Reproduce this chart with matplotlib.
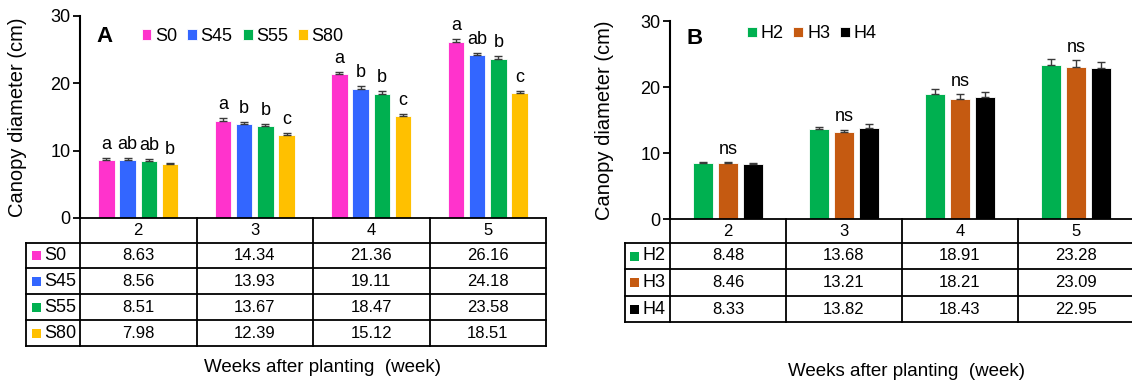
import numpy as np
import matplotlib
matplotlib.use('Agg')
import matplotlib.pyplot as plt
from matplotlib import transforms
from matplotlib.patches import Rectangle
from matplotlib.lines import Line2D

plt.rcParams['font.family'] = ['Liberation Sans', 'DejaVu Sans']

# ---------------- data ----------------
weeks = ['2', '3', '4', '5']

a_names = ['S0', 'S45', 'S55', 'S80']
a_colors = ['#FF33CC', '#3366FF', '#00B050', '#FFC000']
s0 = [8.63, 14.34, 21.36, 26.16]
s45 = [8.56, 13.93, 19.11, 24.18]
s55 = [8.51, 13.67, 18.47, 23.58]
s80 = [7.98, 12.39, 15.12, 18.51]
s0_err = [0.35, 0.50, 0.35, 0.35]
s45_err = [0.30, 0.35, 0.45, 0.30]
s55_err = [0.20, 0.35, 0.45, 0.45]
s80_err = [0.15, 0.30, 0.30, 0.40]
s0_let = ['a', 'a', 'a', 'a']
s45_let = ['ab', 'b', 'b', 'ab']
s55_let = ['ab', 'b', 'b', 'b']
s80_let = ['b', 'c', 'c', 'c']

b_names = ['H2', 'H3', 'H4']
b_colors = ['#00B050', '#C55A11', '#000000']
h2 = [8.48, 13.68, 18.91, 23.28]
h3 = [8.46, 13.21, 18.21, 23.09]
h4 = [8.33, 13.82, 18.43, 22.95]
h2_err = [0.15, 0.30, 0.80, 0.90]
h3_err = [0.15, 0.35, 0.75, 1.00]
h4_err = [0.15, 0.50, 0.85, 0.85]
b_sig = ['ns', 'ns', 'ns', 'ns']

# ---------------- figure ----------------
W, H = 1132, 380
fig = plt.figure(figsize=(W / 100, H / 100), dpi=100)
pix = transforms.Affine2D().scale(1, -1).translate(0, H)  # top-left pixel coords


def add_ax(l, t, r, b):
    return fig.add_axes([l / W, 1 - b / H, (r - l) / W, (b - t) / H])


FS = 12


def panel(ax, names, colors, vals, errs, width, step, letters_per_series,
          top_labels, row_bounds, table_left_px, sq_x, txt_x, legend_anchor,
          panel_letter, letter_xy):
    n = len(names)
    base = np.arange(len(weeks)) + 0.5
    handles = []
    xs_all = []
    for i in range(n):
        xs = base + (i - (n - 1) / 2) * step
        xs_all.append(xs)
        b = ax.bar(xs, vals[i], width, color=colors[i], edgecolor='white',
                   linewidth=0.6, zorder=2, label=names[i])
        handles.append(b)
        ax.errorbar(xs, vals[i], yerr=[np.zeros(len(weeks)), errs[i]],
                    fmt='none', ecolor='#3a3a3a', elinewidth=1.0, capsize=3,
                    capthick=1.0, zorder=3)
        if letters_per_series is not None:
            for x, v, e, t in zip(xs, vals[i], errs[i], letters_per_series[i]):
                ax.annotate(t, (x, v + e), xytext=(0, 6.5), textcoords='offset points',
                            ha='center', va='baseline', fontsize=13)
    if top_labels is not None:
        mid = n // 2
        for j, t in enumerate(top_labels):
            x = xs_all[mid][j]
            ax.annotate(t, (x, vals[mid][j] + errs[mid][j]), xytext=(0, 6),
                        textcoords='offset points', ha='center', va='baseline',
                        fontsize=13)

    ax.set_xlim(0, len(weeks))
    ax.set_ylim(0, 30)
    ax.set_yticks([0, 10, 20, 30])
    ax.set_xticks([])
    for s in ['top', 'right', 'bottom']:
        ax.spines[s].set_visible(False)
    ax.spines['left'].set_linewidth(1.5)
    ax.tick_params(axis='y', direction='out', length=5, width=1.3, labelsize=13, pad=2)

    # legend
    ax.legend(handles=handles, loc='center left', bbox_to_anchor=legend_anchor,
              ncol=n, frameon=False, fontsize=13, handlelength=0.55,
              handleheight=0.55, handletextpad=0.2, columnspacing=0.55,
              borderpad=0, borderaxespad=0)
    fig.text(letter_xy[0] / W, 1 - letter_xy[1] / H, panel_letter, fontsize=16,
             fontweight='bold', ha='left', va='center')

    # table
    trans = transforms.blended_transform_factory(ax.transData, pix)
    x_left = (table_left_px - ax.get_window_extent().x0) / (
        ax.get_window_extent().width / len(weeks))
    lw = 1.3
    top, hdr = row_bounds[0], row_bounds[1]
    bottom = row_bounds[-1]
    ax.add_line(Line2D([0, len(weeks)], [top, top], transform=trans, color='black',
                       lw=lw, clip_on=False))
    for yb in row_bounds[1:]:
        ax.add_line(Line2D([x_left, len(weeks)], [yb, yb], transform=trans,
                           color='black', lw=lw, clip_on=False))
    for xc in range(len(weeks) + 1):
        ax.add_line(Line2D([xc, xc], [top, bottom], transform=trans, color='black',
                           lw=lw, clip_on=False))
    ax.add_line(Line2D([x_left, x_left], [hdr, bottom], transform=trans,
                       color='black', lw=lw, clip_on=False))
    for j, w in enumerate(weeks):
        ax.text(j + 0.5, (top + hdr) / 2, w, transform=trans, ha='center',
                va='center', fontsize=FS)
    for i in range(n):
        y0, y1 = row_bounds[i + 1], row_bounds[i + 2]
        yc = (y0 + y1) / 2
        for j in range(len(weeks)):
            ax.text(j + 0.5, yc, f'{vals[i][j]:.2f}', transform=trans,
                    ha='center', va='center', fontsize=FS)
        fig.add_artist(Rectangle((sq_x, yc - 4.5), 9, 9, transform=pix,
                                 facecolor=colors[i], edgecolor='none'))
        fig.text(txt_x / W, 1 - yc / H, names[i], ha='left', va='center',
                 fontsize=13)


axA = add_ax(80, 16, 546, 218)
axB = add_ax(670, 21, 1134, 219)

panel(axA, a_names, a_colors, [s0, s45, s55, s80],
      [s0_err, s45_err, s55_err, s80_err], 0.142, 0.182,
      [s0_let, s45_let, s55_let, s80_let], None,
      [218, 243, 268, 294, 320, 346], 26, 32, 44, (0.132, 0.90), 'A', (96, 37))

panel(axB, b_names, b_colors, [h2, h3, h4], [h2_err, h3_err, h4_err],
      0.17, 0.215, None, b_sig,
      [219, 243, 269, 296, 322], 625, 630, 642, (0.166, 0.935), 'B', (687, 39))

fig.text(18 / W, 1 - 117 / H, 'Canopy diameter (cm)', rotation=90, ha='center',
         va='center', fontsize=14.5)
fig.text(605 / W, 1 - 120 / H, 'Canopy diameter (cm)', rotation=90, ha='center',
         va='center', fontsize=14.5)
fig.text(322 / W, 1 - 368 / H, 'Weeks after planting  (week)', ha='center',
         va='center', fontsize=13.5)
fig.text(907 / W, 1 - 372 / H, 'Weeks after planting  (week)', ha='center',
         va='center', fontsize=13.5)

fig.savefig('out.png', dpi=100)
